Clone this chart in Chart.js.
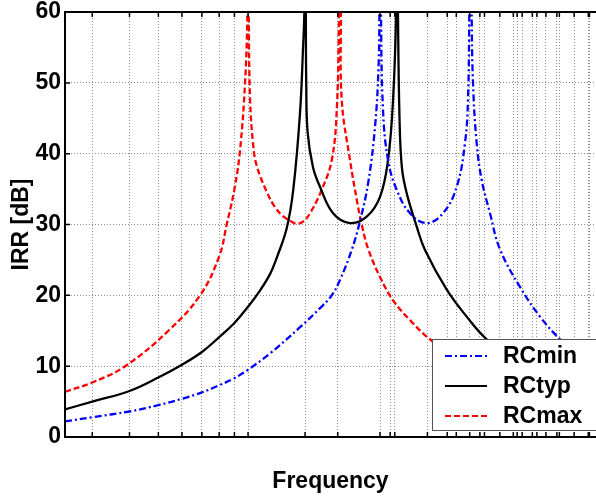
<!DOCTYPE html>
<html>
<head>
<meta charset="utf-8">
<title>IRR vs Frequency</title>
<script src="https://cdn.jsdelivr.net/npm/chart.js@4.4.1/dist/chart.umd.min.js"></script>
<style>
  body { margin: 0; background: #fff; }
</style>
</head>
<body>
<canvas id="irrChart" width="596" height="497"></canvas>
<script>
// image rejection ratio for the three RC corners, each on its own frequency list
const minFreq = [2.43, 3, 4, 5, 6, 7, 8, 9, 10, 11.85, 14.94, 17.45, 19.1, 20.36, 22.28, 23.76, 25.33, 26.68, 27.4, 27.6, 27.73, 27.94, 28.38, 29.5, 31.55, 34.97, 39.78, 45.12, 50.15, 53.47, 54.72, 55.3, 55.8, 56.3, 56.89, 58.54, 60.84, 64.88, 70.08, 81.78, 95.47, 111.4, 147.2];
const minIrr = [2.2, 2.8, 3.6, 4.5, 5.4, 6.3, 7.3, 8.3, 9.5, 11.8, 15.5, 18.2, 20, 22.2, 26.4, 30.5, 36, 43.8, 52, 60, 80, 60, 46.2, 39.1, 34.9, 31.6, 30.2, 31.6, 35.3, 41.5, 47.6, 60, 80, 60, 50, 41.5, 36.3, 31.6, 26.5, 21.2, 17, 13.8, 9];

const typFreq = [2.43, 3, 4, 5, 6, 7, 8, 9, 10, 10.89, 11.85, 12.48, 13.49, 14.19, 14.94, 15.3, 15.45, 15.54, 15.63, 15.68, 15.85, 16.52, 17.45, 19.29, 21.99, 25.02, 27.73, 29.5, 30.67, 31.4, 31.62, 31.86, 32.24, 32.85, 34.09, 36.83, 39.26, 46.44, 54.18, 63.24, 80, 100, 147.2];
const typIrr = [3.9, 5.0, 6.5, 8.4, 10.2, 12.0, 14.1, 16.1, 18.4, 20.5, 23.0, 25.3, 29.5, 35, 45.7, 55, 60, 80, 60, 50, 43, 38.1, 35.3, 31.6, 30.2, 31.1, 33.9, 39.1, 47.6, 60, 80, 60, 45, 38, 34.4, 29.7, 26.4, 20.8, 17.0, 13.8, 10.8, 8.5, 6];

const maxFreq = [2.43, 3, 3.87, 5.4, 6.9, 8, 8.48, 9, 9.4, 9.77, 9.95, 10, 10.05, 10.16, 10.39, 10.69, 11.56, 12.3, 13.1, 14.16, 14.6, 15.3, 16.15, 17.67, 19.1, 19.85, 20.2, 20.36, 20.5, 20.63, 21.99, 23.17, 24.07, 25.33, 27.73, 30.67, 34.97, 40.8, 50, 70, 100, 147.2];
const maxIrr = [6.4, 7.7, 10, 15, 20, 25.5, 30, 35, 40.5, 50, 60, 80, 60, 47.6, 41.5, 38.3, 34.6, 32.5, 31.2, 30.3, 30.1, 30.4, 31.6, 34.9, 39.1, 46.2, 60, 80, 60, 47.6, 39.1, 33.5, 30, 26.5, 22.6, 19.3, 16.5, 13.8, 11.5, 8.5, 6.3, 4.5];

// x grid: plain decade grid plus the two grids that start at the RCtyp and RCmin peaks
const gridDecade = [3, 4, 5, 6, 7, 8, 9, 10, 20, 30, 40, 50, 60, 70, 80, 90, 100];
const gridTyp = [15.54, 31.08, 46.62, 62.16, 77.7, 93.24, 108.8, 124.3, 139.9];
const gridMin = [27.73, 55.46, 83.19, 110.9, 138.7];
const yTicks = [0, 10, 20, 30, 40, 50, 60];

const font = 'Liberation Sans, Arial, Helvetica, sans-serif';
Chart.defaults.font.family = font;
Chart.defaults.color = '#000';

function pairs(xs, ys) {
  return xs.map((f, i) => ({ x: f, y: ys[i] }));
}

// box round the plot with small inward tick marks
const frame = {
  id: 'frame',
  afterDatasetsDraw(chart) {
    const { ctx, chartArea: a, scales: { x, y } } = chart;
    ctx.save();
    ctx.strokeStyle = '#000';
    ctx.lineWidth = 1.5;
    ctx.beginPath();
    x.ticks.forEach(t => {
      const px = x.getPixelForValue(t.value);
      ctx.moveTo(px, a.bottom); ctx.lineTo(px, a.bottom - 5);
      ctx.moveTo(px, a.top); ctx.lineTo(px, a.top + 5);
    });
    y.ticks.forEach(t => {
      const py = y.getPixelForValue(t.value);
      ctx.moveTo(a.left, py); ctx.lineTo(a.left + 5, py);
    });
    ctx.stroke();
    ctx.lineWidth = 2;
    ctx.beginPath();
    ctx.moveTo(a.right + 2, a.top);
    ctx.lineTo(a.left, a.top);
    ctx.lineTo(a.left, a.bottom);
    ctx.lineTo(a.right + 2, a.bottom);
    ctx.stroke();
    ctx.restore();
  }
};

// legend box in the lower right corner of the plot
const boxLegend = {
  id: 'boxLegend',
  afterDraw(chart) {
    const { ctx, chartArea: a } = chart;
    const left = a.right - 164;
    const top = a.bottom - 98;
    ctx.save();
    ctx.fillStyle = '#fff';
    ctx.fillRect(left, top, a.right - left + 2, 91);
    ctx.strokeStyle = '#555';
    ctx.lineWidth = 1;
    ctx.strokeRect(left + 0.5, top + 0.5, a.right - left + 4, 91);
    ctx.font = 'bold 23px ' + font;
    ctx.textBaseline = 'middle';
    chart.data.datasets.forEach((ds, i) => {
      const cy = top + 17 + i * 30;
      ctx.strokeStyle = ds.borderColor;
      ctx.lineWidth = 2;
      ctx.setLineDash(ds.borderDash || []);
      ctx.beginPath();
      ctx.moveTo(left + 13, cy);
      ctx.lineTo(left + 55, cy);
      ctx.stroke();
      ctx.setLineDash([]);
      ctx.fillStyle = '#000';
      ctx.fillText(ds.label, left + 71, cy + 1);
    });
    ctx.restore();
  }
};

new Chart(document.getElementById('irrChart'), {
  type: 'line',
  data: {
    datasets: [
      { label: 'RCmin', data: pairs(minFreq, minIrr), borderColor: '#0000ff', borderDash: [7, 3, 2, 3] },
      { label: 'RCtyp', data: pairs(typFreq, typIrr), borderColor: '#000000' },
      { label: 'RCmax', data: pairs(maxFreq, maxIrr), borderColor: '#ff0000', borderDash: [6, 3] }
    ]
  },
  options: {
    responsive: false,
    animation: false,
    parsing: false,
    layout: { padding: { top: 8, right: 0, left: 0, bottom: 0 } },
    elements: {
      line: { borderWidth: 2.3, tension: 0.4, fill: false },
      point: { radius: 0 }
    },
    plugins: {
      legend: { display: false },
      tooltip: { enabled: false }
    },
    scales: {
      x: {
        type: 'logarithmic',
        min: 2.43,
        max: 147.2,
        afterBuildTicks(scale) {
          scale.ticks = gridDecade.concat(gridTyp, gridMin).map(v => ({ value: v }));
        },
        afterFit(scale) { scale.height = 60; },
        ticks: { display: false },
        grid: { color: '#8c8c8c', lineWidth: 1, drawTicks: false },
        border: { display: false, dash: [1, 2] },
        title: {
          display: true,
          text: 'Frequency',
          font: { size: 23, weight: 'bold' },
          padding: { top: 0, bottom: 2 }
        }
      },
      y: {
        min: 0,
        max: 60,
        afterBuildTicks(scale) {
          scale.ticks = yTicks.map(v => ({ value: v }));
        },
        afterFit(scale) { scale.width = 65; },
        ticks: {
          padding: 4,
          // small line height so the top label does not push the plot down
          font: { size: 23, weight: 'bold', lineHeight: 0.7 }
        },
        grid: { color: '#8c8c8c', lineWidth: 1, drawTicks: false },
        border: { display: false, dash: [1, 2] },
        title: {
          display: true,
          text: 'IRR [dB]',
          font: { size: 23, weight: 'bold' },
          padding: { top: 8, bottom: 0 }
        }
      }
    }
  },
  plugins: [frame, boxLegend]
});
</script>
</body>
</html>
